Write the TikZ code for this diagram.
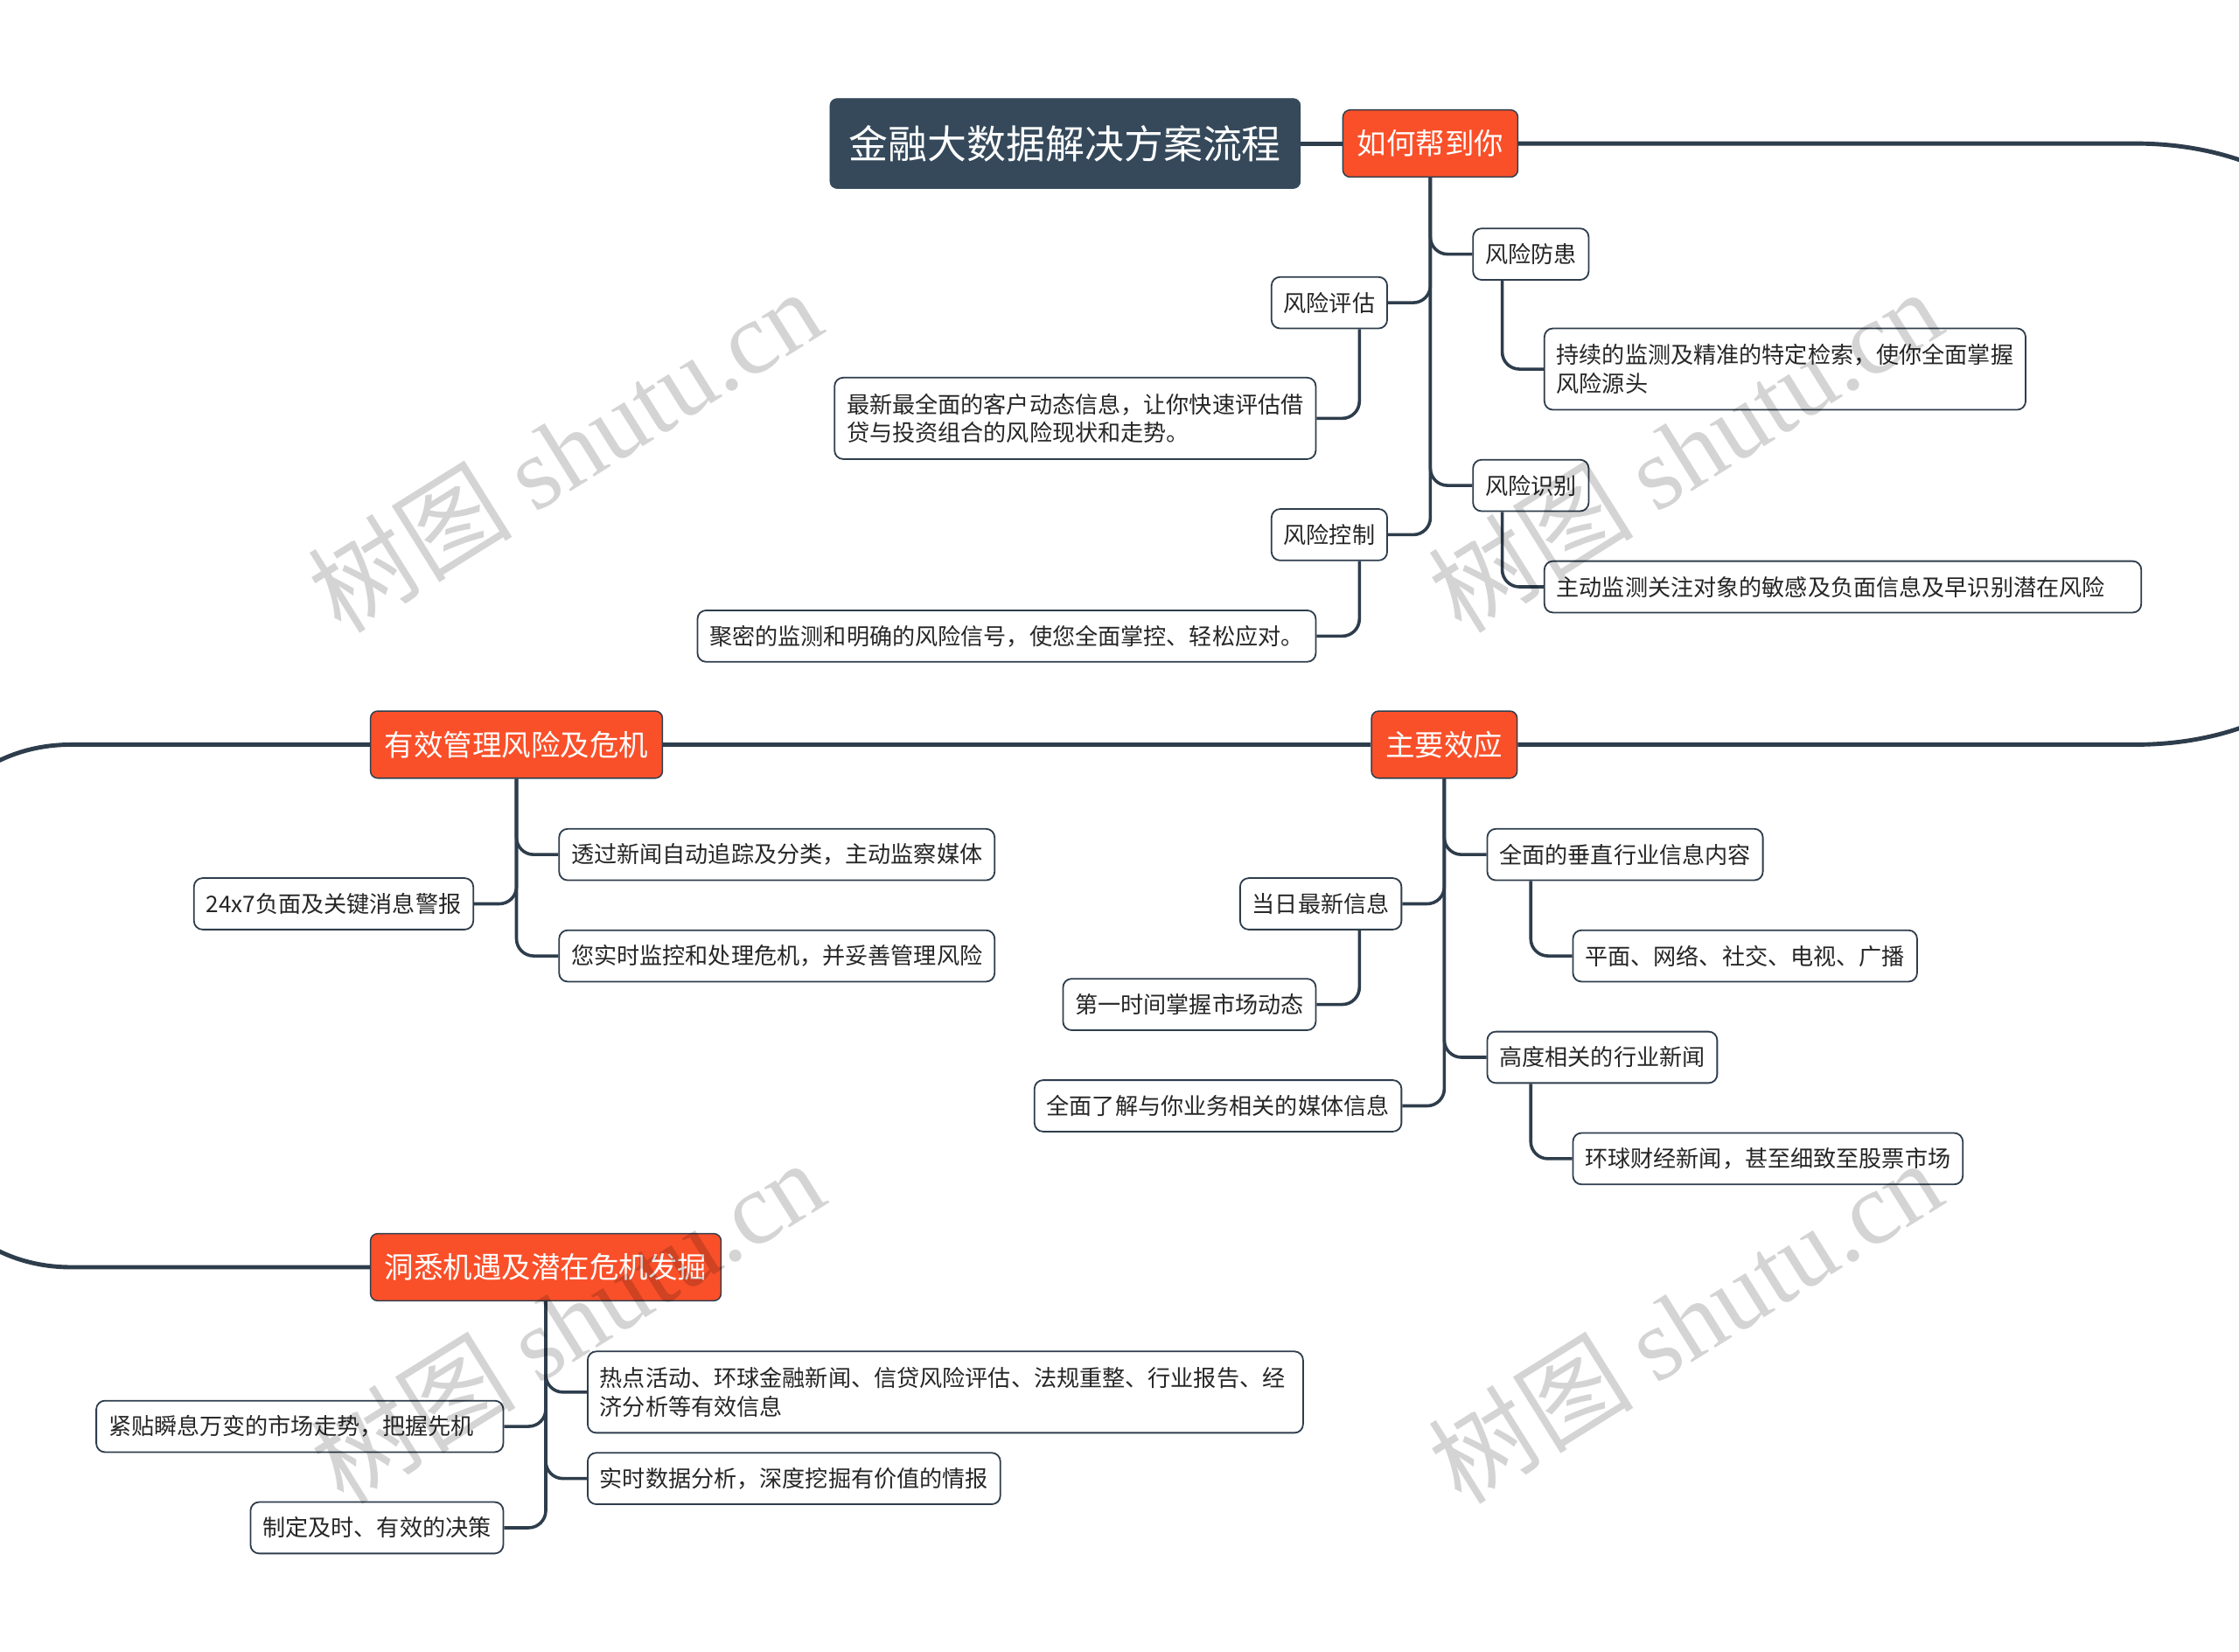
\documentclass[tikz,border=0pt]{standalone}
\usepackage{fontspec}
\newfontfamily\cjk{Noto Sans CJK SC}
\newfontfamily\wmlatin{Liberation Serif}
\usetikzlibrary{calc}
\definecolor{lineC}{HTML}{2E3D4C}
\definecolor{titleC}{HTML}{35495B}
\definecolor{orangeC}{HTML}{F9502A}
\begin{document}
\begin{tikzpicture}[x=1pt,y=-1pt,
  titlebox/.style={draw=titleC, fill=titleC, rounded corners=5pt, text=white, font=\cjk\fontsize{27.5}{30}\selectfont, minimum height=63pt, inner xsep=13.5pt, inner ysep=0pt},
  topicbox/.style={draw=lineC, line width=0.9pt, fill=orangeC, rounded corners=5pt, text=white, font=\cjk\fontsize{20.5}{24}\selectfont, minimum height=47pt, inner xsep=10pt, inner ysep=0pt},
  subbox/.style={draw=lineC, line width=1.1pt, fill=white, rounded corners=6pt, text=black!85, font=\cjk\fontsize{16}{20}\selectfont, minimum height=36pt, inner xsep=8.5pt, inner ysep=0pt},
  twoline/.style={subbox, align=left, minimum height=57pt},
  widebox/.style={subbox, align=left, text width=#1},
  mainline/.style={draw=lineC, line width=3pt},
  branch/.style={draw=lineC, line width=2.2pt, rounded corners=12pt},
  wm/.style={text=black, opacity=0.17, rotate=32, inner sep=0pt, font=\fontsize{72}{80}\selectfont}
]
\useasboundingbox (0,0) rectangle (1568,1157);
\clip (0,0) rectangle (1568,1157);
\fill[white] (0,0) rectangle (1568,1157);

% ---------- nodes ----------
\node[titlebox, anchor=west] (title) at (581,100.5) {金融大数据解决方案流程};
\node[topicbox, anchor=west] (help) at (940,100.5) {如何帮到你};
\node[topicbox, anchor=west] (effect) at (960,521.5) {主要效应};
\node[topicbox, anchor=west] (manage) at (259,521.5) {有效管理风险及危机};
\node[topicbox, anchor=west] (insight) at (259,887.5) {洞悉机遇及潜在危机发掘};

% 如何帮到你
\node[subbox, anchor=west] (fanghuan) at (1031,178) {风险防患};
\node[subbox, anchor=east] (pinggu) at (972,212) {风险评估};
\node[subbox, anchor=west] (shibie) at (1031,340) {风险识别};
\node[subbox, anchor=east] (kongzhi) at (972,374.5) {风险控制};
\node[twoline, anchor=west] (chixu) at (1081,258.5) {持续的监测及精准的特定检索，使你全面掌握\\风险源头};
\node[twoline, anchor=east] (zuixin) at (922,293) {最新最全面的客户动态信息，让你快速评估借\\贷与投资组合的风险现状和走势。};
\node[widebox=401pt, anchor=west] (zhudong) at (1081,411) {主动监测关注对象的敏感及负面信息及早识别潜在风险};
\node[subbox, anchor=east] (jumi) at (922,445.5) {聚密的监测和明确的风险信号，使您全面掌控、轻松应对。};

% 有效管理风险及危机
\node[subbox, anchor=west] (touguo) at (391,598.5) {透过新闻自动追踪及分类，主动监察媒体};
\node[subbox, anchor=east] (jingbao) at (332,633) {24x7负面及关键消息警报};
\node[subbox, anchor=west] (nin) at (391,669.5) {您实时监控和处理危机，并妥善管理风险};

% 主要效应
\node[subbox, anchor=west] (chuizhi) at (1041,598.5) {全面的垂直行业信息内容};
\node[subbox, anchor=west] (pingmian) at (1101,669.5) {平面、网络、社交、电视、广播};
\node[subbox, anchor=east] (dangri) at (982,633) {当日最新信息};
\node[subbox, anchor=east] (diyi) at (922,703.5) {第一时间掌握市场动态};
\node[subbox, anchor=west] (gaodu) at (1041,740.5) {高度相关的行业新闻};
\node[subbox, anchor=west] (huanqiu) at (1101,811.5) {环球财经新闻，甚至细致至股票市场};
\node[subbox, anchor=east] (liaojie) at (982,774.5) {全面了解与你业务相关的媒体信息};

% 洞悉机遇及潜在危机发掘
\node[twoline, anchor=west, text width=484pt] (redian) at (411,975) {热点活动、环球金融新闻、信贷风险评估、法规重整、行业报告、经\\济分析等有效信息};
\node[widebox=268pt, anchor=east] (jintie) at (353,999) {紧贴瞬息万变的市场走势，把握先机};
\node[subbox, anchor=west] (shishi) at (411,1035.5) {实时数据分析，深度挖掘有价值的情报};
\node[subbox, anchor=east] (zhiding) at (353,1070) {制定及时、有效的决策};

% ---------- main connectors ----------
\draw[mainline] (title.east) -- (help.west);
\draw[mainline] (help.east) -- (1495,100.5) .. controls (1770,100.5) and (1770,521.5) .. (1495,521.5) -- (effect.east);
\draw[mainline] (effect.west) -- (manage.east);
\draw[mainline] (manage.west) -- (50,521.5) .. controls (-130,521.5) and (-130,887.5) .. (50,887.5) -- (insight.west);

% ---------- branches ----------
\draw[branch] (help.south) |- (fanghuan.west);
\draw[branch] (help.south) |- (pinggu.east);
\draw[branch] (help.south) |- (shibie.west);
\draw[branch] (help.south) |- (kongzhi.east);
\draw[branch] let \p1=(chixu.west), \p2=(fanghuan.south) in (\x1-29pt,\y2) |- (chixu.west);
\draw[branch] let \p1=(zhudong.west), \p2=(shibie.south) in (\x1-29pt,\y2) |- (zhudong.west);
\draw[branch] let \p1=(zuixin.east), \p2=(pinggu.south) in (\x1+30pt,\y2) |- (zuixin.east);
\draw[branch] let \p1=(jumi.east), \p2=(kongzhi.south) in (\x1+30pt,\y2) |- (jumi.east);

\draw[branch] (manage.south) |- (touguo.west);
\draw[branch] (manage.south) |- (jingbao.east);
\draw[branch] (manage.south) |- (nin.west);

\draw[branch] (effect.south) |- (chuizhi.west);
\draw[branch] (effect.south) |- (dangri.east);
\draw[branch] (effect.south) |- (gaodu.west);
\draw[branch] (effect.south) |- (liaojie.east);
\draw[branch] let \p1=(pingmian.west), \p2=(chuizhi.south) in (\x1-29pt,\y2) |- (pingmian.west);
\draw[branch] let \p1=(huanqiu.west), \p2=(gaodu.south) in (\x1-29pt,\y2) |- (huanqiu.west);
\draw[branch] let \p1=(diyi.east), \p2=(dangri.south) in (\x1+30pt,\y2) |- (diyi.east);

\draw[branch] (insight.south) |- (redian.west);
\draw[branch] (insight.south) |- (jintie.east);
\draw[branch] (insight.south) |- (shishi.west);
\draw[branch] (insight.south) |- (zhiding.east);

% ---------- watermarks ----------
\node[wm] (wm1) at (395,315) {\cjk 树图 \wmlatin shutu.cn};
\node[wm] (wm2) at (1180,315) {\cjk 树图 \wmlatin shutu.cn};
\node[wm] (wm3) at (397,925) {\cjk 树图 \wmlatin shutu.cn};
\node[wm] (wm4) at (1180,925) {\cjk 树图 \wmlatin shutu.cn};
\end{tikzpicture}
\end{document}
